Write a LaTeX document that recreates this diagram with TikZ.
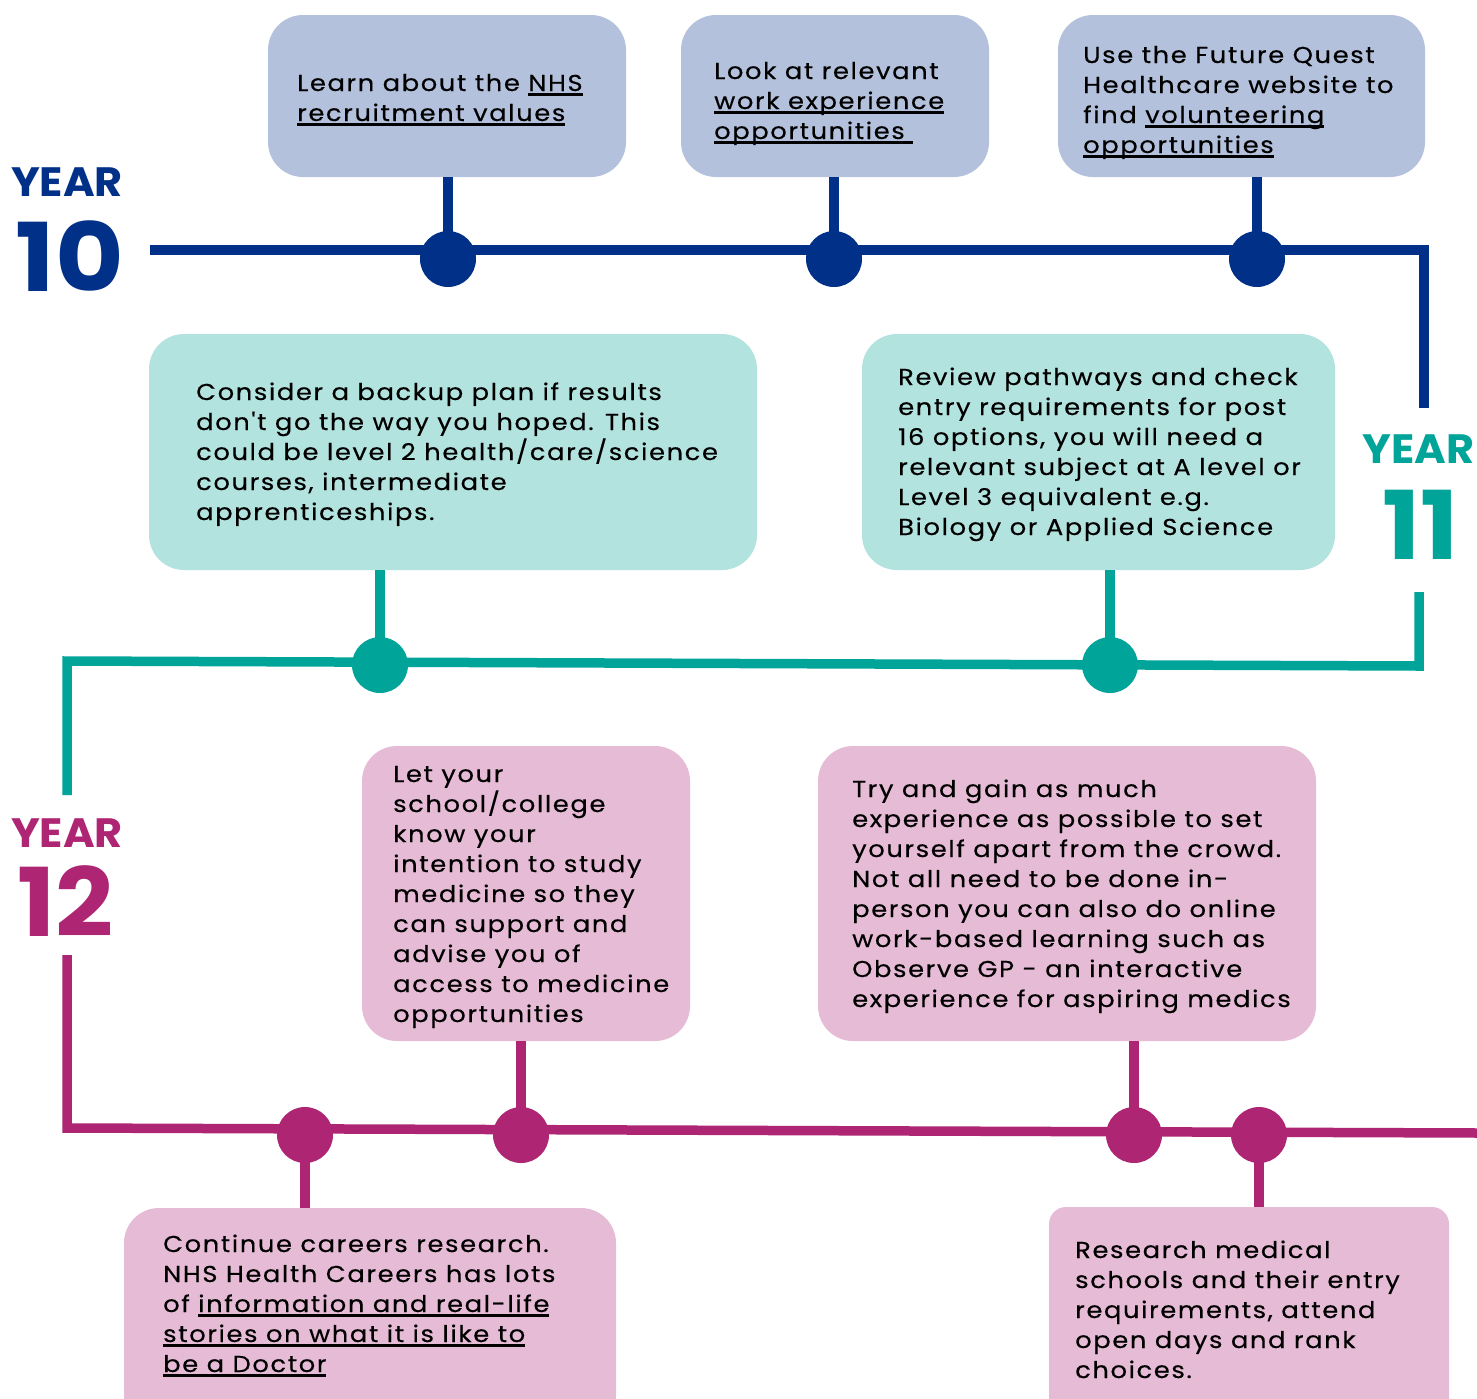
\documentclass[tikz,border=0pt]{standalone}
\usepackage{graphicx}
\usepackage{fontspec}
\setmainfont{Poppins}
\newfontfamily\bodyfont{Poppins}[FakeStretch=1.12, LetterSpace=7, FakeBold=0.35]
\definecolor{navy}{HTML}{003087}
\definecolor{teal}{HTML}{00A499}
\definecolor{mag}{HTML}{AE2573}
\definecolor{lblue}{HTML}{B3C1DC}
\definecolor{lteal}{HTML}{B3E3DF}
\definecolor{lpink}{HTML}{E6BBD5}
\newcommand\myul[1]{\setbox0=\hbox{#1}\rlap{\rule[-4.5pt]{\wd0}{2.6pt}}\box0}
\tikzset{
  stepbox/.style={rectangle, rounded corners=35pt, inner sep=0pt, draw=none},
  bodytext/.style={anchor=base west, inner sep=0pt, align=left, text=black,
    font=\bodyfont\fontsize{23}{30}\selectfont},
  dot/.style={circle, minimum size=56pt, inner sep=0pt, fill=#1},
  yearlab/.style={anchor=base, inner sep=0pt, text=#1, font=\fontsize{41}{41}\selectfont\bfseries},
  yearnum/.style={anchor=base, inner sep=0pt, text=#1, font=\fontsize{95}{95}\selectfont\bfseries},
  tline/.style={line width=9.5pt, draw=#1},
}
\begin{document}
\begin{tikzpicture}[x=1pt, y=-1pt]
\path[use as bounding box, clip] (0,0) rectangle (1477,1398);
% boxes
\node[stepbox, fill=lblue, minimum width=358pt, minimum height=162pt] (b1) at (447,96) {};
\node[stepbox, fill=lblue, minimum width=308pt, minimum height=162pt] (b2) at (835,96) {};
\node[stepbox, fill=lblue, minimum width=367pt, minimum height=162pt] (b3) at (1241.5,96) {};
\node[stepbox, fill=lteal, minimum width=608pt, minimum height=236pt] (b4) at (453,452) {};
\node[stepbox, fill=lteal, minimum width=473pt, minimum height=236pt] (b5) at (1098.5,452) {};
\node[stepbox, fill=lpink, minimum width=328pt, minimum height=295pt] (b6) at (526,893.5) {};
\node[stepbox, fill=lpink, minimum width=498pt, minimum height=295pt] (b7) at (1067,893.5) {};
\node[stepbox, fill=lpink, minimum width=492pt, minimum height=222pt] (b8) at (370,1319) {};
\node[stepbox, fill=lpink, rounded corners=17pt, minimum width=400pt, minimum height=223pt] (b9) at (1249,1318.5) {};
% texts (anchor = baseline of last line)
\node[bodytext] (t1) at (297,121) {Learn about the \myul{NHS}\\\myul{recruitment values}};
\node[bodytext] (t2) at (714,139) {Look at relevant\\\myul{work experience}\\\myul{opportunities\ }};
\node[bodytext] (t3) at (1083,153) {Use the Future Quest\\Healthcare website to\\find \myul{volunteering}\\\myul{opportunities}};
\node[bodytext] (t4) at (196,520) {Consider a backup plan if results\\don't go the way you hoped. This\\could be level 2 health/care/science\\courses, intermediate\\apprenticeships.};
\node[bodytext] (t5) at (898,535) {Review pathways and check\\entry requirements for post\\16 options, you will need a\\relevant subject at A level or\\Level 3 equivalent e.g.\\Biology or Applied Science};
\node[bodytext] (t6) at (393,1022) {Let your\\school/college\\know your\\intention to study\\medicine so they\\can support and\\advise you of\\access to medicine\\opportunities};
\node[bodytext] (t7) at (852,1007) {Try and gain as much\\experience as possible to set\\yourself apart from the crowd.\\Not all need to be done in-\\person you can also do online\\work-based learning such as\\Observe GP - an interactive\\experience for aspiring medics};
\node[bodytext] (t8) at (163,1372) {Continue careers research.\\NHS Health Careers has lots\\of \myul{information and real-life}\\\myul{stories on what it is like to}\\\myul{be a Doctor}};
\node[bodytext] (t9) at (1075,1378) {Research medical\\schools and their entry\\requirements, attend\\open days and rank\\choices.};
% year labels
\node[yearlab=navy] (y10a) at (67,196) {\scalebox{1.05}[1]{YEAR}};
\node[yearnum=navy] (y10b) at (70,291) {\scalebox{1.11}[1]{10}};
\node[yearlab=teal] (y11a) at (1418.5,463) {\scalebox{1.05}[1]{YEAR}};
\node[yearnum=teal] (y11b) at (1420.5,559) {\scalebox{1.07}[1]{11}};
\node[yearlab=mag] (y12a) at (67,847) {\scalebox{1.05}[1]{YEAR}};
\node[yearnum=mag] (y12b) at (65.5,936) {\scalebox{1.07}[1]{12}};
% line end coordinates
\coordinate (l10s) at (150,250);
\coordinate (l10c) at (1424,250);
\coordinate (l10e) at (1424,408);
\coordinate (l11s) at (1419,592);
\coordinate (l11c) at (1419,666);
\coordinate (l11d) at (67,661);
\coordinate (l11e) at (67,795);
\coordinate (l12s) at (67,955);
\coordinate (l12c) at (67,1128);
\coordinate (l12e) at (1480,1133);
% dot positions
\coordinate (p1) at (448,259);
\coordinate (p2) at (834,259);
\coordinate (p3) at (1257,259);
\coordinate (q1) at (380,665);
\coordinate (q2) at (1110,665);
\coordinate (r1) at (305,1135);
\coordinate (r2) at (521,1135);
\coordinate (r3) at (1134,1135);
\coordinate (r4) at (1259,1135);
% timelines
\draw[tline=navy, miter limit=10] (l10s) -- (l10c) -- (l10e);
\draw[tline=teal] (l11s) -- (l11c) -- (l11d) -- (l11e);
\draw[tline=mag] (l12s) -- (l12c) -- (l12e);
% stubs
\draw[tline=navy] (p1) -- (p1 |- b1.south);
\draw[tline=navy] (p2) -- (p2 |- b2.south);
\draw[tline=navy] (p3) -- (p3 |- b3.south);
\draw[tline=teal] (q1) -- (q1 |- b4.south);
\draw[tline=teal] (q2) -- (q2 |- b5.south);
\draw[tline=mag] (r1) -- (r1 |- b8.north);
\draw[tline=mag] (r2) -- (r2 |- b6.south);
\draw[tline=mag] (r3) -- (r3 |- b7.south);
\draw[tline=mag] (r4) -- (r4 |- b9.north);
% dots
\node[dot=navy] (d1) at (p1) {};
\node[dot=navy] (d2) at (p2) {};
\node[dot=navy] (d3) at (p3) {};
\node[dot=teal] (e1) at (q1) {};
\node[dot=teal] (e2) at (q2) {};
\node[dot=mag] (f1) at (r1) {};
\node[dot=mag] (f2) at (r2) {};
\node[dot=mag] (f3) at (r3) {};
\node[dot=mag] (f4) at (r4) {};
\end{tikzpicture}
\end{document}
